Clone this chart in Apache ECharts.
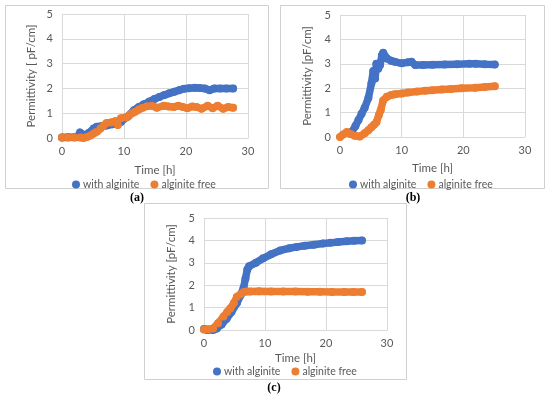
<!DOCTYPE html>
<html>
<head>
<meta charset="utf-8">
<script src="https://cdn.jsdelivr.net/npm/echarts@6/dist/echarts.min.js"></script>
<style>html,body{margin:0;padding:0;background:#fff;}#c{width:550px;height:397px;}</style>
</head>
<body>
<div id="c"></div>
<script>
// ---- Data ----
const seriesNames = ['with alginite', 'alginite free'];
const xTicks = [0, 10, 20, 30];
const yTicks = [0, 1, 2, 3, 4, 5];
const captions = ['(a)', '(b)', '(c)'];
const yTitles = ['Permittivity [ pF/cm]', 'Permittivity [pF/cm]', 'Permittivity [pF/cm]'];
const xTitle = 'Time [h]';

// Panel (a)
const aBlueT = [0, 1, 2, 2.5, 2.9, 3.3, 3.7, 4.3, 5.1, 5.6, 6.3, 7.2, 8.2, 9.5, 10.5, 11.6, 12.4, 13.2, 14.1, 14.9, 15.7, 16.5, 17.3, 18.1, 18.9, 19.7, 20.5, 21.4, 22.2, 23.0, 23.8, 24.6, 25.5, 26.5, 27.6];
const aBlueV = [0.02, 0.03, 0.03, 0.05, 0.22, 0.15, 0.1, 0.2, 0.38, 0.45, 0.47, 0.5, 0.55, 0.65, 0.85, 1.12, 1.25, 1.36, 1.47, 1.57, 1.65, 1.73, 1.8, 1.86, 1.93, 1.99, 2.01, 2.03, 2.02, 2.0, 1.93, 2.0, 2.0, 2.0, 2.0];
const aOrangeT = [0, 1, 2, 3, 3.5, 4, 4.6, 5.1, 5.6, 6.2, 6.7, 7.2, 7.9, 8.6, 9.0, 9.5, 10.3, 10.8, 11.3, 11.8, 12.4, 13.0, 13.7, 14.5, 15.3, 16.4, 17.2, 18.0, 18.8, 19.5, 20.2, 21.0, 21.7, 22.5, 23.5, 24.3, 25.1, 26.0, 26.8, 27.6];
const aOrangeV = [0.02, 0.02, 0.02, 0.02, 0.0, 0.04, 0.1, 0.18, 0.25, 0.38, 0.5, 0.6, 0.63, 0.68, 0.52, 0.8, 0.83, 0.9, 1.0, 1.06, 1.15, 1.22, 1.28, 1.3, 1.22, 1.3, 1.27, 1.25, 1.3, 1.25, 1.2, 1.27, 1.25, 1.18, 1.3, 1.2, 1.3, 1.18, 1.25, 1.22];

// Panel (b)
const bBlueT = [1.9, 2.5, 3.0, 3.5, 4.0, 4.6, 5.1, 5.4, 5.7, 5.9, 6.2, 6.5, 6.8, 7.0, 7.6, 8.3, 8.9, 10.0, 11.0, 11.6, 12.2, 13.5, 15, 17, 19, 21, 22, 23.5, 25.1];
const bBlueV = [0.2, 0.45, 0.7, 0.95, 1.2, 1.6, 2.2, 2.7, 2.4, 3.0, 2.8, 2.95, 3.35, 3.45, 3.22, 3.12, 3.08, 3.02, 3.06, 3.08, 2.95, 2.95, 2.96, 2.97, 2.98, 3.0, 3.0, 2.98, 2.97];
const bOrangeT = [0, 0.5, 1.1, 1.7, 2.4, 3.2, 4.0, 4.6, 5.1, 5.5, 5.9, 6.3, 6.6, 7.0, 7.6, 8.3, 8.9, 10, 11, 12.5, 13.8, 15, 16.5, 18, 19.7, 21.9, 23.5, 25.1];
const bOrangeV = [0.0, 0.1, 0.2, 0.12, 0.05, 0.02, 0.15, 0.28, 0.4, 0.5, 0.6, 0.9, 1.1, 1.5, 1.65, 1.72, 1.75, 1.78, 1.82, 1.86, 1.9, 1.92, 1.95, 1.97, 2.0, 2.02, 2.05, 2.08];

// Panel (c)
const cBlueT = [0, 0.5, 1.0, 1.5, 2.1, 2.9, 3.7, 4.5, 5.4, 6.0, 6.5, 6.8, 7.1, 7.4, 8.5, 9.7, 11, 12.5, 14, 15.2, 16.5, 18, 19.5, 20.7, 22, 23.4, 24.6, 25.9];
const cBlueV = [0.05, 0.0, -0.05, 0.0, 0.07, 0.25, 0.5, 0.8, 1.2, 1.55, 1.9, 2.3, 2.7, 2.85, 3.0, 3.2, 3.38, 3.55, 3.65, 3.71, 3.76, 3.81, 3.86, 3.89, 3.93, 3.96, 3.98, 4.0];
const cOrangeT = [0, 0.7, 1.5, 2.3, 3.2, 3.8, 4.3, 4.9, 5.4, 6.0, 6.5, 7.0, 7.6, 9, 11, 13, 15, 17, 19, 21, 23, 24.5, 25.9];
const cOrangeV = [0.02, 0.03, 0.07, 0.3, 0.6, 0.8, 0.96, 1.2, 1.48, 1.6, 1.7, 1.72, 1.72, 1.73, 1.72, 1.72, 1.72, 1.71, 1.71, 1.7, 1.7, 1.7, 1.7];

// ---- Build chart ----
const BLUE = '#4472C4', ORANGE = '#ED7D31';
const FONT = 'Lato';
const TXT = '#595959';
const GRID_C = '#d9d9d9';

const panels = [
  { grid: { left: 62, top: 14, width: 186, height: 124 }, xGap: 26, yGap: 25, legend: { left: 67, top: 174 },
    blue: [aBlueT, aBlueV], orange: [aOrangeT, aOrangeV] },
  { grid: { left: 340, top: 15, width: 185, height: 122 }, xGap: 25, yGap: 27, legend: { left: 344, top: 174 },
    blue: [bBlueT, bBlueV], orange: [bOrangeT, bOrangeV] },
  { grid: { left: 204, top: 218, width: 183, height: 112 }, xGap: 22, yGap: 27, legend: { left: 208, top: 361 },
    blue: [cBlueT, cBlueV], orange: [cOrangeT, cOrangeV] }
];

const zip = (t, v) => t.map((x, i) => [x, v[i]]);

const option = {
  backgroundColor: '#fff',
  animation: false,
  textStyle: { fontFamily: FONT },
  grid: panels.map(p => Object.assign({ containLabel: false }, p.grid)),
  xAxis: panels.map((p, i) => ({
    type: 'value', gridIndex: i, min: xTicks[0], max: xTicks[xTicks.length - 1], interval: 10,
    name: xTitle, nameLocation: 'middle', nameGap: p.xGap,
    nameTextStyle: { color: TXT, fontSize: 11.5, fontFamily: FONT },
    axisLine: { show: true, lineStyle: { color: GRID_C } },
    axisTick: { show: false },
    axisLabel: { color: TXT, fontSize: 11, fontFamily: FONT, margin: 8 },
    splitLine: { show: true, lineStyle: { color: GRID_C } }
  })),
  yAxis: panels.map((p, i) => ({
    type: 'value', gridIndex: i, min: yTicks[0], max: yTicks[yTicks.length - 1], interval: 1,
    name: yTitles[i], nameLocation: 'middle', nameGap: p.yGap, nameRotate: 90,
    nameTextStyle: { color: TXT, fontSize: 11.5, fontFamily: FONT },
    axisLine: { show: false },
    axisTick: { show: false },
    axisLabel: { color: TXT, fontSize: 11, fontFamily: FONT, margin: 9 },
    splitLine: { show: true, lineStyle: { color: GRID_C } }
  })),
  legend: panels.map(p => ({
    left: p.legend.left, top: p.legend.top, orient: 'horizontal',
    data: seriesNames, icon: 'circle', itemWidth: 8, itemHeight: 8, itemGap: 11,
    textStyle: { color: TXT, fontSize: 10.5, fontFamily: FONT, padding: [0, 0, 0, -2] }
  })),
  series: [],
  graphic: []
};

panels.forEach((p, i) => {
  [[seriesNames[0], BLUE, p.blue], [seriesNames[1], ORANGE, p.orange]].forEach(([name, col, d]) => {
    option.series.push({
      type: 'line', name, xAxisIndex: i, yAxisIndex: i,
      data: zip(d[0], d[1]),
      showSymbol: true, symbol: 'circle', symbolSize: 8,
      itemStyle: { color: col },
      lineStyle: { color: col, width: 7.5, cap: 'round', join: 'round' },
      emphasis: { disabled: true }
    });
  });
});

// Panel frames and captions
const frames = [
  { x: 5, y: 5, w: 263, h: 183 },
  { x: 280, y: 5, w: 264, h: 183 },
  { x: 144, y: 203, w: 262, h: 176 }
];
const capPos = [[137, 198], [413, 198], [274, 388]];
frames.forEach(f => option.graphic.push({
  type: 'rect', shape: { x: f.x + 0.5, y: f.y + 0.5, width: f.w, height: f.h },
  style: { fill: 'none', stroke: '#d0d0d0', lineWidth: 1 }, silent: true, z: -1
}));
captions.forEach((c, i) => option.graphic.push({
  type: 'text', x: capPos[i][0], y: capPos[i][1],
  style: { text: c, fill: '#000', font: 'bold 12px "Liberation Serif", serif', align: 'center', verticalAlign: 'middle' },
  silent: true
}));

const chart = echarts.init(document.getElementById('c'), null, { renderer: 'canvas' });
chart.setOption(option);
</script>
</body>
</html>
